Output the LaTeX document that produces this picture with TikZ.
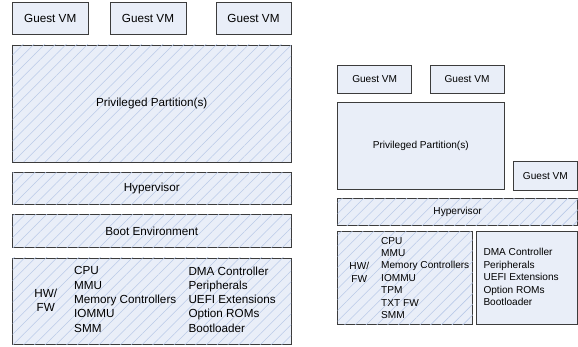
\documentclass[tikz,border=0pt]{standalone}
\usepackage{fontspec}
\setmainfont{Liberation Sans}
\usetikzlibrary{patterns.meta}
\definecolor{boxfill}{HTML}{E9EEF8}
\definecolor{boxline}{HTML}{3C3C3C}
\definecolor{hatch}{HTML}{BACAE8}
\tikzset{
  box/.style={draw=boxline, line width=0.9pt, fill=boxfill, inner sep=0pt, rectangle},
  hbox/.style={box, postaction={pattern={Lines[angle=45,distance=7.6pt,line width=0.6pt]}, pattern color=hatch}},
  bigtxt/.style={font=\fontsize{11.7}{14.3}\selectfont, inner sep=0pt},
  smtxt/.style={font=\fontsize{10.1}{12.4}\selectfont, inner sep=0pt},
}
\begin{document}
\begin{tikzpicture}[x=1pt,y=-1pt]
\useasboundingbox (0,0) rectangle (578,347);
% left diagram
\node[box, minimum width=75.5pt, minimum height=32pt, bigtxt] (g1) at (50.25,18) {Guest VM};
\node[box, minimum width=76pt, minimum height=32pt, bigtxt] (g2) at (148,18) {Guest VM};
\node[box, minimum width=75pt, minimum height=32pt, bigtxt] (g3) at (253.5,18) {Guest VM};
\node[hbox, minimum width=278.5pt, minimum height=117pt, bigtxt] (pp) at (151.75,103.5) {Privileged Partition(s)};
\node[hbox, minimum width=278.5pt, minimum height=32.3pt, bigtxt] (hv) at (151.75,188.8) {Hypervisor};
\node[hbox, minimum width=278.5pt, minimum height=32.7pt, bigtxt] (be) at (151.75,231.3) {Boot Environment};
\node[hbox, minimum width=278.5pt, minimum height=86pt] (hw) at (151.75,301) {};
\node[bigtxt, align=center] (hwl) at (45.7,300.3) {HW/\\FW};
\node[bigtxt, align=left, anchor=west] (hwa) at (74,299.5) {CPU\\MMU\\Memory Controllers\\IOMMU\\SMM};
\node[bigtxt, align=left, anchor=west] (hwb) at (188.3,299.5) {DMA Controller\\Peripherals\\UEFI Extensions\\Option ROMs\\Bootloader};
% right diagram
\node[box, minimum width=74pt, minimum height=28.3pt, smtxt] (rg1) at (374.7,79.2) {Guest VM};
\node[box, minimum width=74pt, minimum height=28.3pt, smtxt] (rg2) at (467,79.2) {Guest VM};
\node[box, minimum width=166.3pt, minimum height=86.6pt, smtxt] (rpp) at (420.8,146) {Privileged Partition(s)};
\node[box, minimum width=64.2pt, minimum height=29pt, smtxt] (rg3) at (545.4,176.2) {Guest VM};
\node[hbox, minimum width=239.8pt, minimum height=27.4pt, smtxt] (rhv) at (457.6,212) {Hypervisor};
\node[hbox, minimum width=135pt, minimum height=92.3pt] (rhw) at (405.2,277.85) {};
\node[box, minimum width=101.5pt, minimum height=92.3pt] (rdv) at (526.75,277.85) {};
\node[smtxt, align=center] (rhwl) at (359.3,272.2) {HW/\\FW};
\node[smtxt, align=left, anchor=west] (rhwa) at (381,277.9) {CPU\\MMU\\Memory Controllers\\IOMMU\\TPM\\TXT FW\\SMM};
\node[smtxt, align=left, anchor=west] (rdva) at (483.3,277) {DMA Controller\\Peripherals\\UEFI Extensions\\Option ROMs\\Bootloader};
\end{tikzpicture}
\end{document}
